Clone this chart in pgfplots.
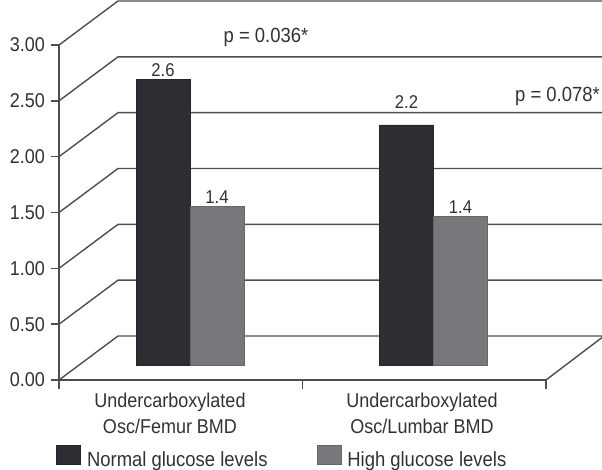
\documentclass[border=0pt]{standalone}
\usepackage{pgfplots}
\pgfplotsset{compat=1.18}
\usepackage{fontspec}
\setmainfont{Liberation Sans}[FakeStretch=0.9]
\definecolor{barblack}{RGB}{45,45,52}
\definecolor{bargray}{RGB}{120,120,124}
\definecolor{framec}{RGB}{78,78,78}
\definecolor{txt}{RGB}{50,50,50}
\begin{document}
\begin{tikzpicture}[x=1pt,y=1pt,font=\fontsize{20pt}{26pt}\selectfont, text=txt]
\path[use as bounding box] (0,0) rectangle (602,469);
\clip (0,0) rectangle (602,469);
% walls and floor of the 3-D frame
\foreach \v in {0,...,6}{
  \draw[framec, line width=1.4pt] (59,{89+\v*55.8333}) -- (118,{133+\v*55.8333}) -- (640,{133+\v*55.8333});
}
\draw[framec, line width=1.4pt] (546,89) -- (604,133);
% front axis
\begin{axis}[
  at={(59pt,89pt)}, anchor=south west, scale only axis, width=487pt, height=335pt,
  xmin=0, xmax=2, ymin=0, ymax=3,
  axis x line*=bottom, axis y line*=left,
  axis line style={framec, line width=1.4pt, -},
  xtick={0,1,2}, xticklabels={},
  ytick={0,0.5,1,1.5,2,2.5,3},
  tick align=outside, major tick length=8.5pt,
  tick style={framec, line width=1.4pt},
  yticklabel style={/pgf/number format/fixed, /pgf/number format/fixed zerofill,
    /pgf/number format/precision=2, /pgf/number format/assume math mode=true,
    font=\fontsize{20pt}{22pt}\selectfont, text=txt, xshift=-2pt},
]
\end{axis}
\node[anchor=north, inner sep=0pt, align=center] at (170,76.6) {Undercarboxylated\\Osc/Femur BMD};
\node[anchor=north, inner sep=0pt, align=center] at (422,76.6) {Undercarboxylated\\Osc/Lumbar BMD};
\node[anchor=base, inner sep=0pt, font=\fontsize{20.5pt}{25pt}\selectfont] at (266,426) {p = 0.036*};
\node[anchor=base west, inner sep=0pt, font=\fontsize{20.5pt}{25pt}\selectfont] at (515,367) {p = 0.078*};
% bars
\begin{axis}[
  at={(68.25pt,104pt)}, anchor=south west, scale only axis, width=487pt, height=335pt,
  xmin=0, xmax=2, ymin=0, ymax=3, hide axis, clip=false,
  ybar=0pt, bar width=54pt,
  nodes near coords, point meta=explicit symbolic,
  every node near coord/.append style={anchor=south, inner sep=2.5pt, font=\fontsize{18.5pt}{22pt}\selectfont, text=txt},
  legend columns=2,
  legend style={draw=none, fill=none, at={(-0.025,-0.2388)}, anchor=north west, inner sep=0pt,
    font=\fontsize{20.5pt}{24pt}\selectfont,
    /tikz/every odd column/.append style={column sep=4pt},
    /tikz/every even column/.append style={column sep=47pt}},
  legend image code/.code={\draw[#1] (0pt,-5pt) rectangle (24pt,14pt);},
]
\addplot[fill=barblack, draw=black!85, line width=0.8pt] coordinates {(0.5,2.56) [2.6] (1.5,2.15) [\raisebox{14pt}{2.2}]};
\addplot[fill=bargray, draw=black!60, line width=0.8pt] coordinates {(0.5,1.42) [1.4] (1.5,1.33) [1.4]};
\legend{Normal glucose levels, High glucose levels}
\end{axis}
\end{tikzpicture}
\end{document}
